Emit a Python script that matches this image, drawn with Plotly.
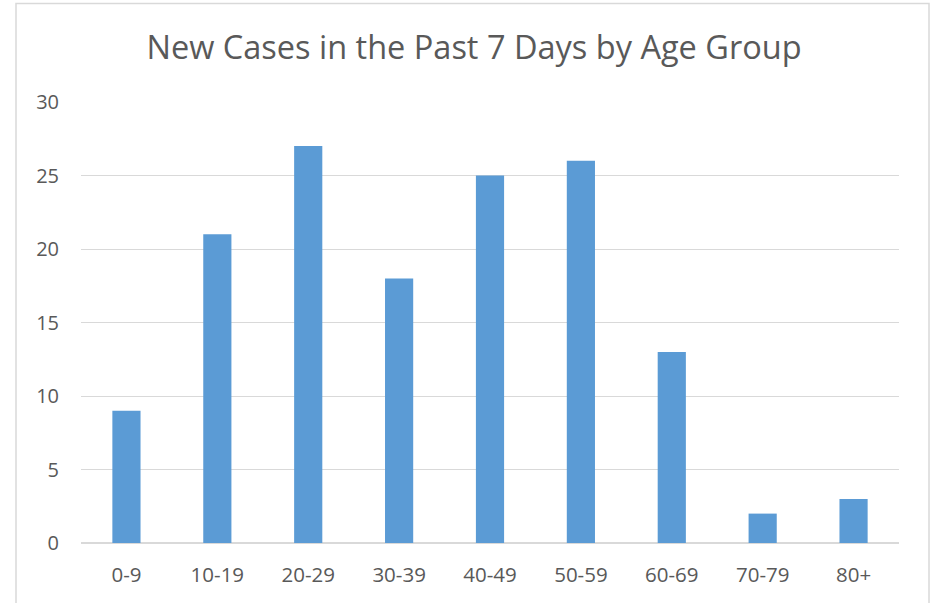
import plotly.graph_objects as go

categories = ["0-9", "10-19", "20-29", "30-39", "40-49", "50-59", "60-69", "70-79", "80+"]
cases = [9, 21, 27, 18, 25, 26, 13, 2, 3]
y_ticks = [0, 5, 10, 15, 20, 25, 30]

W, H = 934, 603
L, R, T, B = 81, 35, 102, 60
pw, ph = W - L - R, H - T - B

fig = go.Figure(go.Bar(x=categories, y=cases, marker=dict(color="#5B9BD5", line=dict(width=0))))

fig.update_layout(
    width=W, height=H,
    margin=dict(l=L, r=R, t=T, b=B, pad=0),
    paper_bgcolor="white", plot_bgcolor="white",
    bargap=0.69,
    showlegend=False,
    font=dict(family="Open Sans, Liberation Sans, sans-serif", color="#595959", size=20),
    title=dict(text="New Cases in the Past 7 Days by Age Group", x=474 / W, xanchor="center",
               y=1 - 48 / H, yanchor="middle", font=dict(size=32.5, color="#595959")),
    xaxis=dict(showgrid=False, showline=False, ticks="", tickfont=dict(size=20.5),
               ticklabelstandoff=17),
    yaxis=dict(range=[0, 30], tickvals=y_ticks, showgrid=True, gridcolor="#D9D9D9", gridwidth=1,
               zeroline=True, zerolinecolor="#D9D9D9", zerolinewidth=2, ticks="", tickfont=dict(size=20),
               ticklabelstandoff=21, showline=False),
    shapes=[dict(type="rect", xref="paper", yref="paper",
                 x0=(16 - L) / pw, x1=(929 - L) / pw, y0=-0.3, y1=(H - B - 3.5) / ph,
                 line=dict(color="#D9D9D9", width=1.5), fillcolor="rgba(0,0,0,0)", layer="below")],
)

fig.write_html("out.html", config={"displayModeBar": False},
               post_script="document.body.style.margin='0';document.body.style.overflow='hidden';")
